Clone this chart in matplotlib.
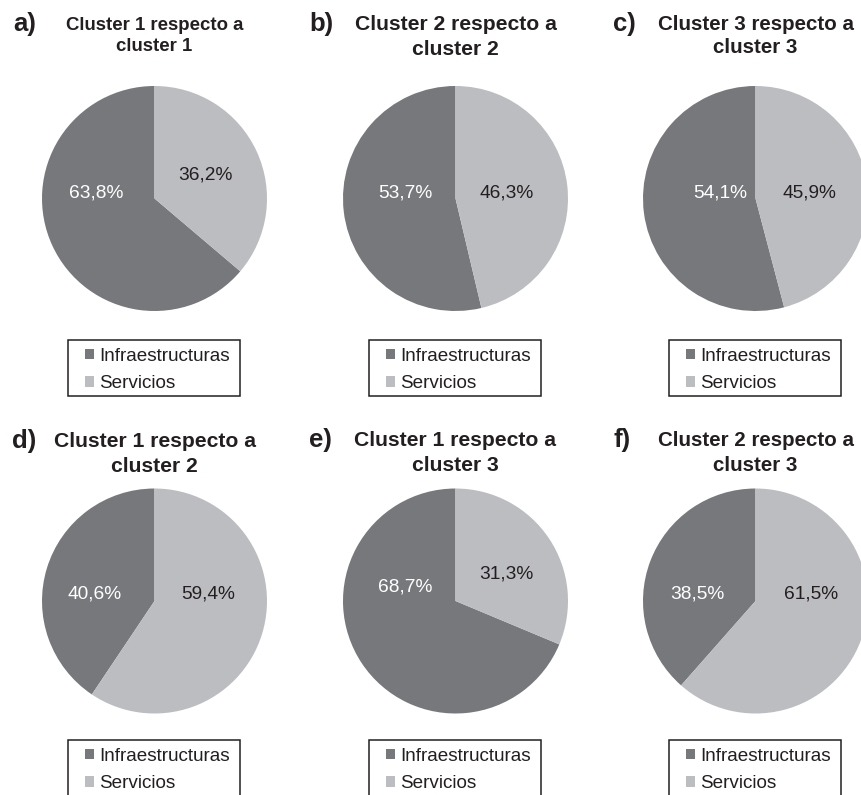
import matplotlib
matplotlib.use("Agg")
import matplotlib.pyplot as plt
from matplotlib.patches import Rectangle

plt.rcParams['font.family'] = ['Liberation Sans', 'DejaVu Sans']

# ---------------- data ----------------
panel_letters = ['a)', 'b)', 'c)', 'd)', 'e)', 'f)']
titles_line1 = ['Cluster 1 respecto a', 'Cluster 2 respecto a', 'Cluster 3 respecto a',
                'Cluster 1 respecto a', 'Cluster 1 respecto a', 'Cluster 2 respecto a']
titles_line2 = ['cluster 1', 'cluster 2', 'cluster 3',
                'cluster 2', 'cluster 3', 'cluster 3']
categories = ['Infraestructuras', 'Servicios']
infra = [63.8, 53.7, 54.1, 40.6, 68.7, 38.5]
serv = [36.2, 46.3, 45.9, 59.4, 31.3, 61.5]

# ---------------- layout / style ----------------
W, H = 861, 795
DPI = 100
colors = ['#77787b', '#bcbdc0']
label_colors = ['white', '#231f20']
R = 112.5
centers_x = [154.5, 455.5, 755.5]
centers_y = [198.5, 601.0]
# label positions in pie-radius units (dark, light)
label_pos = [((-0.52, 0.05), (0.45, 0.21)),
             ((-0.45, 0.05), (0.45, 0.05)),
             ((-0.31, 0.05), (0.48, 0.05)),
             ((-0.53, 0.06), (0.48, 0.06)),
             ((-0.45, 0.12), (0.45, 0.24)),
             ((-0.52, 0.06), (0.49, 0.06))]
title_sizes = [13.4, 15.2, 14.8, 15.2, 15.2, 14.8]
title_base1 = [29.7, 29.6, 29.6, 446.6, 445.6, 445.6]
title_base2 = [50.7, 54.6, 52.6, 471.6, 470.6, 470.6]
letter_x = [13, 309, 613, 12, 309, 614]
legend_top = [340, 740]

fig = plt.figure(figsize=(W / DPI, H / DPI), dpi=DPI)
fig.patch.set_facecolor('white')


def fx(px):
    return px / W


def fy(py):
    return 1 - py / H


for i in range(6):
    col, row = i % 3, i // 3
    cx, cy = centers_x[col], centers_y[row]
    ax = fig.add_axes([fx(cx - R), fy(cy + R), 2 * R / W, 2 * R / H])
    vals = [infra[i], serv[i]]
    wedges, texts, autotexts = ax.pie(
        vals, colors=colors, startangle=90, counterclock=True,
        radius=1.0, wedgeprops=dict(linewidth=0),
        autopct=lambda p: f'{p:.1f}'.replace('.', ',') + '%',
        pctdistance=0.5, textprops=dict(fontsize=13.8))
    for k, t in enumerate(autotexts):
        t.set_position(label_pos[i][k])
        t.set_color(label_colors[k])
        t.set_ha('center')
        t.set_va('center')
    ax.set_xlim(-1, 1)
    ax.set_ylim(-1, 1)
    ax.axis('off')

    # titles
    fig.text(fx(cx), fy(title_base1[i]), titles_line1[i], ha='center', va='baseline',
             fontsize=title_sizes[i], fontweight='bold', color='#231f20')
    fig.text(fx(cx), fy(title_base2[i]), titles_line2[i], ha='center', va='baseline',
             fontsize=title_sizes[i], fontweight='bold', color='#231f20')
    fig.text(fx(letter_x[i]), fy(title_base1[i] + 1), panel_letters[i], ha='left',
             va='baseline', fontsize=18.5, fontweight='bold', color='#231f20')

    # legend
    top = legend_top[row]
    left = cx - 86.5
    fig.add_artist(Rectangle((fx(left), fy(top + 56)), 172 / W, 56 / H,
                             transform=fig.transFigure, fill=False,
                             edgecolor='#231f20', linewidth=1.1))
    leg = fig.legend(wedges, categories, loc='center left',
                     bbox_to_anchor=(fx(left + 17), fy(top + 30)),
                     frameon=False, borderpad=0, borderaxespad=0,
                     handlelength=0.5, handleheight=0.5, handletextpad=0.24,
                     labelspacing=0.56, fontsize=13.6, labelcolor='#231f20')

fig.savefig('out.png', dpi=DPI, facecolor='white')
